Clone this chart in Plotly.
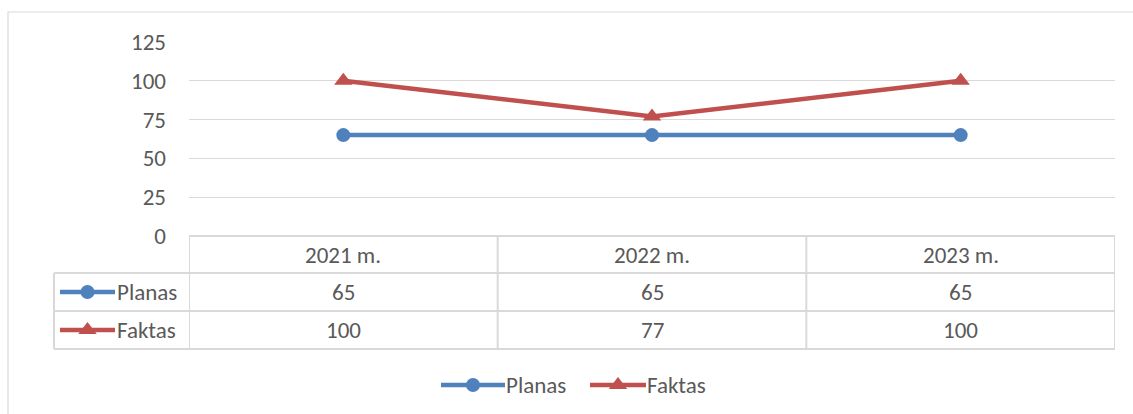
import plotly.graph_objects as go

categories = ["2021 m.", "2022 m.", "2023 m."]
planas = [65, 65, 65]
faktas = [100, 77, 100]
series_names = ["Planas", "Faktas"]
y_ticks = [0, 25, 50, 75, 100, 125]

W, H = 1133, 414
BLUE = "#4f81bd"
RED = "#c0504d"
GRID = "#d9d9d9"
TXT = "#595959"
FONT = "Carlito, Calibri, Lato, sans-serif"
FS = 23

x0, x1 = 189, 1115
ytop, ybot = 42, 236
row_y = [236, 273, 311, 349]

fig = go.Figure()

fig.add_trace(go.Scatter(x=categories, y=planas, mode="lines+markers", name=series_names[0],
                         line=dict(color=BLUE, width=4.5),
                         marker=dict(symbol="circle", size=14, color=BLUE),
                         showlegend=False, xaxis="x", yaxis="y"))
fig.add_trace(go.Scatter(x=categories, y=faktas, mode="lines+markers", name=series_names[1],
                         line=dict(color=RED, width=4.5),
                         marker=dict(symbol="triangle-up", size=16, color=RED),
                         showlegend=False, xaxis="x", yaxis="y"))

shapes = []
annotations = []

# outer chart border
shapes.append(dict(type="rect", xref="x2", yref="y2", x0=8, x1=1145, y0=12, y1=430,
                   line=dict(color=GRID, width=1.2), layer="below"))

# table lines
shapes.append(dict(type="line", xref="x2", yref="y2", x0=x0, x1=x1, y0=row_y[0], y1=row_y[0],
                   line=dict(color=GRID, width=2)))
for ry in row_y[1:]:
    shapes.append(dict(type="line", xref="x2", yref="y2", x0=54, x1=x1, y0=ry, y1=ry,
                       line=dict(color=GRID, width=2)))
shapes.append(dict(type="line", xref="x2", yref="y2", x0=54, x1=54, y0=row_y[1], y1=row_y[3],
                   line=dict(color=GRID, width=2)))
for i in range(len(categories) + 1):
    shapes.append(dict(type="line", xref="x", yref="y2", x0=i - 0.5, x1=i - 0.5,
                       y0=row_y[0], y1=row_y[3], line=dict(color=GRID, width=2)))

# header & values
for i, c in enumerate(categories):
    annotations.append(dict(x=i, y=(row_y[0] + row_y[1]) / 2, xref="x", yref="y2", text=c,
                            showarrow=False, font=dict(family=FONT, size=FS, color=TXT)))
    annotations.append(dict(x=i, y=(row_y[1] + row_y[2]) / 2, xref="x", yref="y2", text=str(planas[i]),
                            showarrow=False, font=dict(family=FONT, size=FS, color=TXT)))
    annotations.append(dict(x=i, y=(row_y[2] + row_y[3]) / 2, xref="x", yref="y2", text=str(faktas[i]),
                            showarrow=False, font=dict(family=FONT, size=FS, color=TXT)))

# legend keys in table and bottom legend
def legend_key(lx0, lx1, ly, color, symbol, size, name, tx):
    fig.add_trace(go.Scatter(x=[lx0, lx1], y=[ly, ly], mode="lines", line=dict(color=color, width=4.5),
                             showlegend=False, hoverinfo="skip", xaxis="x2", yaxis="y2"))
    fig.add_trace(go.Scatter(x=[(lx0 + lx1) / 2], y=[ly], mode="markers",
                             marker=dict(symbol=symbol, size=size, color=color),
                             showlegend=False, hoverinfo="skip", xaxis="x2", yaxis="y2"))
    annotations.append(dict(x=tx, y=ly, xref="x2", yref="y2", text=name, xanchor="left",
                            showarrow=False, font=dict(family=FONT, size=FS, color=TXT)))

legend_key(60, 115, (row_y[1] + row_y[2]) / 2, BLUE, "circle", 14, series_names[0], 115)
legend_key(60, 115, (row_y[2] + row_y[3]) / 2, RED, "triangle-up", 16, series_names[1], 115)
legend_key(441, 505, 385, BLUE, "circle", 14, series_names[0], 504)
legend_key(590, 646, 385, RED, "triangle-up", 16, series_names[1], 645)

fig.update_layout(
    width=W, height=H,
    margin=dict(l=0, r=0, t=0, b=0, pad=0, autoexpand=False),
    paper_bgcolor="white", plot_bgcolor="rgba(0,0,0,0)",
    showlegend=False,
    xaxis=dict(domain=[x0 / W, x1 / W], range=[-0.5, 2.5], type="category", automargin=False,
               showticklabels=False, showgrid=False, zeroline=False, showline=False, anchor="y"),
    yaxis=dict(domain=[1 - ybot / H, 1 - ytop / H], range=[0, 125], tickvals=y_ticks, automargin=False,
               showgrid=True, gridcolor=GRID, gridwidth=1.3, zeroline=False, showline=False,
               ticks="", ticklabelstandoff=22,
               tickfont=dict(family=FONT, size=FS, color=TXT), anchor="x"),
    xaxis2=dict(domain=[0, 1], range=[0, W], visible=False, anchor="y2", automargin=False),
    yaxis2=dict(domain=[0, 1], range=[H, 0], visible=False, anchor="x2", automargin=False),
    shapes=shapes,
    annotations=annotations,
)

fig.write_html("out.html", config={"displayModeBar": False},
               post_script="document.body.style.margin='0';document.body.style.overflow='hidden';")
